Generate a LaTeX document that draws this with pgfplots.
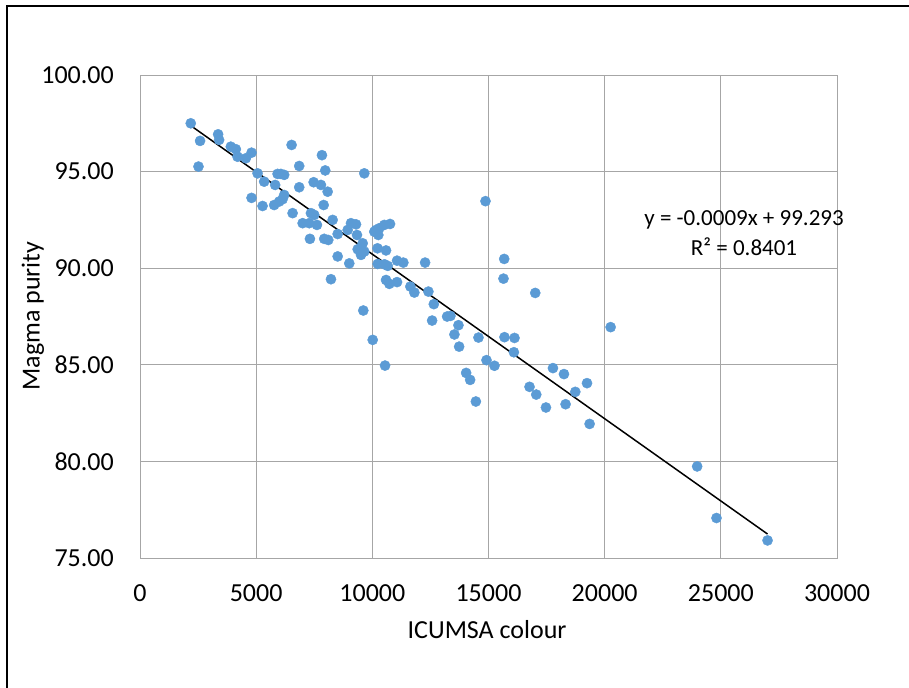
\documentclass[border=0pt]{standalone}
\usepackage{fontspec}
\setmainfont{Carlito}
\usepackage{pgfplots}
\pgfplotsset{compat=1.18}
\definecolor{ptblue}{RGB}{91,155,213}
\definecolor{gridgray}{RGB}{166,166,166}
\begin{document}
\fontsize{26bp}{30bp}\selectfont
\begin{tikzpicture}
\path[use as bounding box] (0,0) rectangle (909bp,-688bp);
\draw[black, line width=1.6bp] (7bp,-688bp) -- (7bp,-6bp) -- (909bp,-6bp);
\begin{axis}[
  at={(140bp,-558bp)}, anchor=south west,
  scale only axis, width=697bp, height=483bp,
  xmin=0, xmax=30000, ymin=75, ymax=100,
  xtick={0,5000,...,30000}, ytick={75,80,...,100},
  grid=major, major grid style={gridgray, line width=0.8bp},
  axis line style={gridgray, line width=0.8bp},
  major tick length=0pt,
  scaled x ticks=false,
  /pgf/number format/assume math mode=true,
  xticklabel style={/pgf/number format/1000 sep={}, anchor=north, inner sep=0pt, yshift=-26bp, font=\fontsize{26bp}{30bp}\selectfont},
  yticklabel style={/pgf/number format/.cd, fixed, fixed zerofill, precision=2, /tikz/.cd, anchor=east, inner sep=0pt, xshift=-26bp, font=\fontsize{26bp}{30bp}\selectfont},
  xlabel={ICUMSA colour}, ylabel={Magma purity},
  xlabel style={at={(axis description cs:0.498,-0.149)}, anchor=center, font=\fontsize{26bp}{30bp}\selectfont},
  ylabel style={at={(axis description cs:-0.1535,0.501)}, anchor=center, rotate=0, font=\fontsize{26bp}{30bp}\selectfont},
  clip=false,
]
\addplot[only marks, mark=*, mark size=5.1bp, mark options={draw=ptblue, fill=ptblue}] coordinates {
(2185,97.50) (2586,96.59) (2517,95.26) (3362,96.93) (3405,96.64) (3909,96.29)
(4125,96.16) (4198,95.77) (4556,95.69) (4801,95.98) (6525,96.38) (5060,94.91)
(5344,94.48) (4801,93.64) (5275,93.22) (5775,93.27) (5991,93.45) (6206,93.79)
(6137,93.57) (5922,94.88) (6064,94.88) (6206,94.83) (5818,94.31) (6853,95.29)
(6853,94.19) (6568,92.85) (7831,95.85) (7973,95.06) (7474,94.45) (7788,94.31)
(8077,93.96) (7905,93.27) (7357,92.85) (7499,92.76) (7000,92.33) (7284,92.33)
(7616,92.24) (8292,92.50) (7314,91.52) (7930,91.52) (8103,91.46) (8508,91.77)
(9081,92.33) (9297,92.27) (8939,91.98) (9340,91.72) (9585,91.29) (9370,90.98)
(9512,90.69) (9654,90.86) (8508,90.61) (9008,90.25) (8219,89.43) (9654,94.91)
(10085,91.89) (10301,92.07) (10516,92.24) (10762,92.29) (10159,91.98) (10258,91.72)
(10223,91.03) (10590,90.92) (10232,90.22) (10525,90.20) (10663,90.12) (11064,90.39)
(11335,90.29) (12271,90.29) (10590,89.39) (10732,89.19) (11064,89.28) (11637,89.05)
(11809,88.74) (12413,88.79) (12646,88.14) (12573,87.29) (13219,87.50) (13361,87.53)
(13706,87.05) (13533,86.57) (13736,85.94) (14568,86.41) (10016,86.29) (10547,84.96)
(14913,85.24) (15257,84.95) (15688,86.43) (16119,86.39) (16093,85.65) (20257,86.95)
(14038,84.58) (14210,84.22) (14456,83.10) (17774,84.83) (18248,84.52) (16766,83.86)
(17055,83.46) (17473,82.79) (18318,82.96) (18736,83.60) (19240,84.05) (19352,81.94)
(23981,79.74) (24813,77.07) (27011,75.91) (14870,93.47) (15676,90.48) (15645,89.46)
(17012,88.72) (9611,87.81)
};
\addplot[black, line width=1.5bp] coordinates {(2185,97.38) (27011,76.24)};
\node[align=center, inner sep=0pt, font=\fontsize{23bp}{30bp}\selectfont] at (axis cs:26000,91.83) {y = -0.0009x + 99.293\\R² = 0.8401};
\end{axis}
\end{tikzpicture}
\end{document}
